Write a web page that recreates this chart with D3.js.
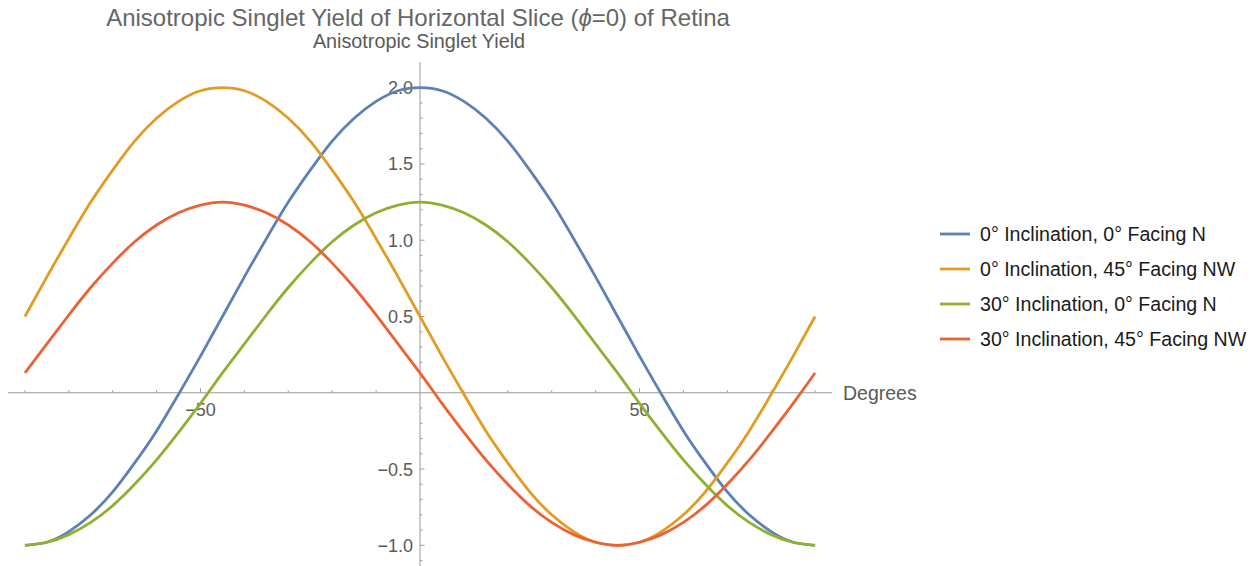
<!DOCTYPE html>
<html>
<head>
<meta charset="utf-8">
<script src="https://cdn.jsdelivr.net/npm/d3@7"></script>
<style>
  html, body { margin: 0; padding: 0; background: #fff; }
  svg { display: block; font-family: "Liberation Sans", Arial, Helvetica, sans-serif; }
</style>
</head>
<body>
<svg id="chart" width="1258" height="566"></svg>
<script>
// Horizontal angle (degrees), sampled every 5°
const degrees = [-90,-85,-80,-75,-70,-65,-60,-55,-50,-45,-40,-35,-30,-25,-20,-15,-10,-5,0,
                 5,10,15,20,25,30,35,40,45,50,55,60,65,70,75,80,85,90];

// Anisotropic singlet yield for each retina orientation
const incl0Face0 = [-1.00,-0.98,-0.91,-0.80,-0.65,-0.46,-0.25,-0.01,0.24,0.50,0.76,1.01,1.25,1.46,1.65,1.80,1.91,1.98,2.00,
                    1.98,1.91,1.80,1.65,1.46,1.25,1.01,0.76,0.50,0.24,-0.01,-0.25,-0.46,-0.65,-0.80,-0.91,-0.98,-1.00];
const incl0Face45 = [0.50,0.76,1.01,1.25,1.46,1.65,1.80,1.91,1.98,2.00,1.98,1.91,1.80,1.65,1.46,1.25,1.01,0.76,0.50,
                     0.24,-0.01,-0.25,-0.46,-0.65,-0.80,-0.91,-0.98,-1.00,-0.98,-0.91,-0.80,-0.65,-0.46,-0.25,-0.01,0.24,0.50];
const incl30Face0 = [-1.00,-0.98,-0.93,-0.85,-0.74,-0.60,-0.44,-0.26,-0.07,0.13,0.32,0.51,0.69,0.85,0.99,1.10,1.18,1.23,1.25,
                     1.23,1.18,1.10,0.99,0.85,0.69,0.51,0.32,0.13,-0.07,-0.26,-0.44,-0.60,-0.74,-0.85,-0.93,-0.98,-1.00];
const incl30Face45 = [0.13,0.32,0.51,0.69,0.85,0.99,1.10,1.18,1.23,1.25,1.23,1.18,1.10,0.99,0.85,0.69,0.51,0.32,0.13,
                      -0.07,-0.26,-0.44,-0.60,-0.74,-0.85,-0.93,-0.98,-1.00,-0.98,-0.93,-0.85,-0.74,-0.60,-0.44,-0.26,-0.07,0.13];

const seriesNames = ["0° Inclination, 0° Facing N", "0° Inclination, 45° Facing NW",
                     "30° Inclination, 0° Facing N", "30° Inclination, 45° Facing NW"];
const seriesColors = ["#5E81B5", "#E19C24", "#8FB032", "#EB6235"];
const seriesValues = [incl0Face0, incl0Face45, incl30Face0, incl30Face45];

const xMajorTicks = [-50, 50];
const xTickLabels = ["\u221250", "50"];
const yMajorTicks = [-1.0, -0.5, 0.5, 1.0, 1.5, 2.0];
const yTickLabels = ["\u22121.0", "\u22120.5", "0.5", "1.0", "1.5", "2.0"];

const titleParts = ["Anisotropic Singlet Yield of Horizontal Slice (", "\u03D5", "=0) of Retina"];
const yAxisLabel = "Anisotropic Singlet Yield";
const xAxisLabel = "Degrees";

const svg = d3.select("#chart");

const x = d3.scaleLinear().domain([-90, 90]).range([24.9, 815.1]);
const y = d3.scaleLinear().domain([-1, 2]).range([545.3, 87.7]);

const x0 = x(0), y0 = y(0);
const axisColor = "#9a9a9a";
const labelColor = "#5a5a5a";

// Horizontal axis
svg.append("line").attr("x1", 8).attr("x2", 832).attr("y1", y0).attr("y2", y0)
  .attr("stroke", axisColor).attr("stroke-width", 1);
// Vertical axis
svg.append("line").attr("x1", x0).attr("x2", x0).attr("y1", 62).attr("y2", 566)
  .attr("stroke", axisColor).attr("stroke-width", 1);

// x ticks (minor every 10°, major at labelled positions)
const xMinor = d3.range(-90, 91, 10).filter(d => d !== 0 && !xMajorTicks.includes(d));
svg.append("g").selectAll("line").data(xMinor).join("line")
  .attr("x1", d => x(d)).attr("x2", d => x(d)).attr("y1", y0).attr("y2", y0 - 2.5)
  .attr("stroke", axisColor);
svg.append("g").selectAll("line").data(xMajorTicks).join("line")
  .attr("x1", d => x(d)).attr("x2", d => x(d)).attr("y1", y0).attr("y2", y0 - 4.5)
  .attr("stroke", axisColor);
svg.append("g").selectAll("text").data(xMajorTicks).join("text")
  .attr("x", d => x(d)).attr("y", y0 + 23)
  .attr("text-anchor", "middle").attr("font-size", 18).attr("fill", labelColor)
  .text((d, i) => xTickLabels[i]);

// y ticks (minor every 0.1, major at labelled positions)
const yMinor = d3.range(-11, 21).map(d => d / 10)
  .filter(d => Math.abs(d) > 1e-9 && !yMajorTicks.some(m => Math.abs(m - d) < 1e-9));
svg.append("g").selectAll("line").data(yMinor).join("line")
  .attr("x1", x0).attr("x2", x0 + 2.5).attr("y1", d => y(d)).attr("y2", d => y(d))
  .attr("stroke", axisColor);
svg.append("g").selectAll("line").data(yMajorTicks).join("line")
  .attr("x1", x0).attr("x2", x0 + 4.5).attr("y1", d => y(d)).attr("y2", d => y(d))
  .attr("stroke", axisColor);
svg.append("g").selectAll("text").data(yMajorTicks).join("text")
  .attr("x", x0 - 7).attr("y", d => y(d)).attr("dy", "0.36em")
  .attr("text-anchor", "end").attr("font-size", 18).attr("fill", labelColor)
  .text((d, i) => yTickLabels[i]);

// Axis labels and title
svg.append("text").attr("x", 843).attr("y", y0).attr("dy", "0.36em")
  .attr("font-size", 19.5).attr("fill", labelColor).text(xAxisLabel);
svg.append("text").attr("x", 419).attr("y", 48).attr("text-anchor", "middle")
  .attr("font-size", 19.8).attr("fill", labelColor).text(yAxisLabel);
const title = svg.append("text").attr("x", 418).attr("y", 26).attr("text-anchor", "middle")
  .attr("font-size", 24).attr("fill", "#666");
title.selectAll("tspan").data(titleParts).join("tspan")
  .attr("font-style", (d, i) => i === 1 ? "italic" : "normal")
  .text(d => d);

// Curves
const line = d3.line().x((d, i) => x(degrees[i])).y(d => y(d)).curve(d3.curveNatural);
svg.append("g").selectAll("path").data(seriesValues).join("path")
  .attr("d", d => line(d))
  .attr("fill", "none")
  .attr("stroke", (d, i) => seriesColors[i])
  .attr("stroke-width", 2.8)
  .attr("stroke-linecap", "butt");

// Legend
const legendY = [234, 269, 304, 339];
const legend = svg.append("g").selectAll("g").data(seriesNames).join("g")
  .attr("transform", (d, i) => `translate(940,${legendY[i]})`);
legend.append("line").attr("x1", 0).attr("x2", 30).attr("y1", 0).attr("y2", 0)
  .attr("stroke", (d, i) => seriesColors[i]).attr("stroke-width", 2.8);
legend.append("text").attr("x", 40).attr("y", 0).attr("dy", "0.36em")
  .attr("font-size", 19.6).attr("fill", "#1a1a1a").text(d => d);
</script>
</body>
</html>
